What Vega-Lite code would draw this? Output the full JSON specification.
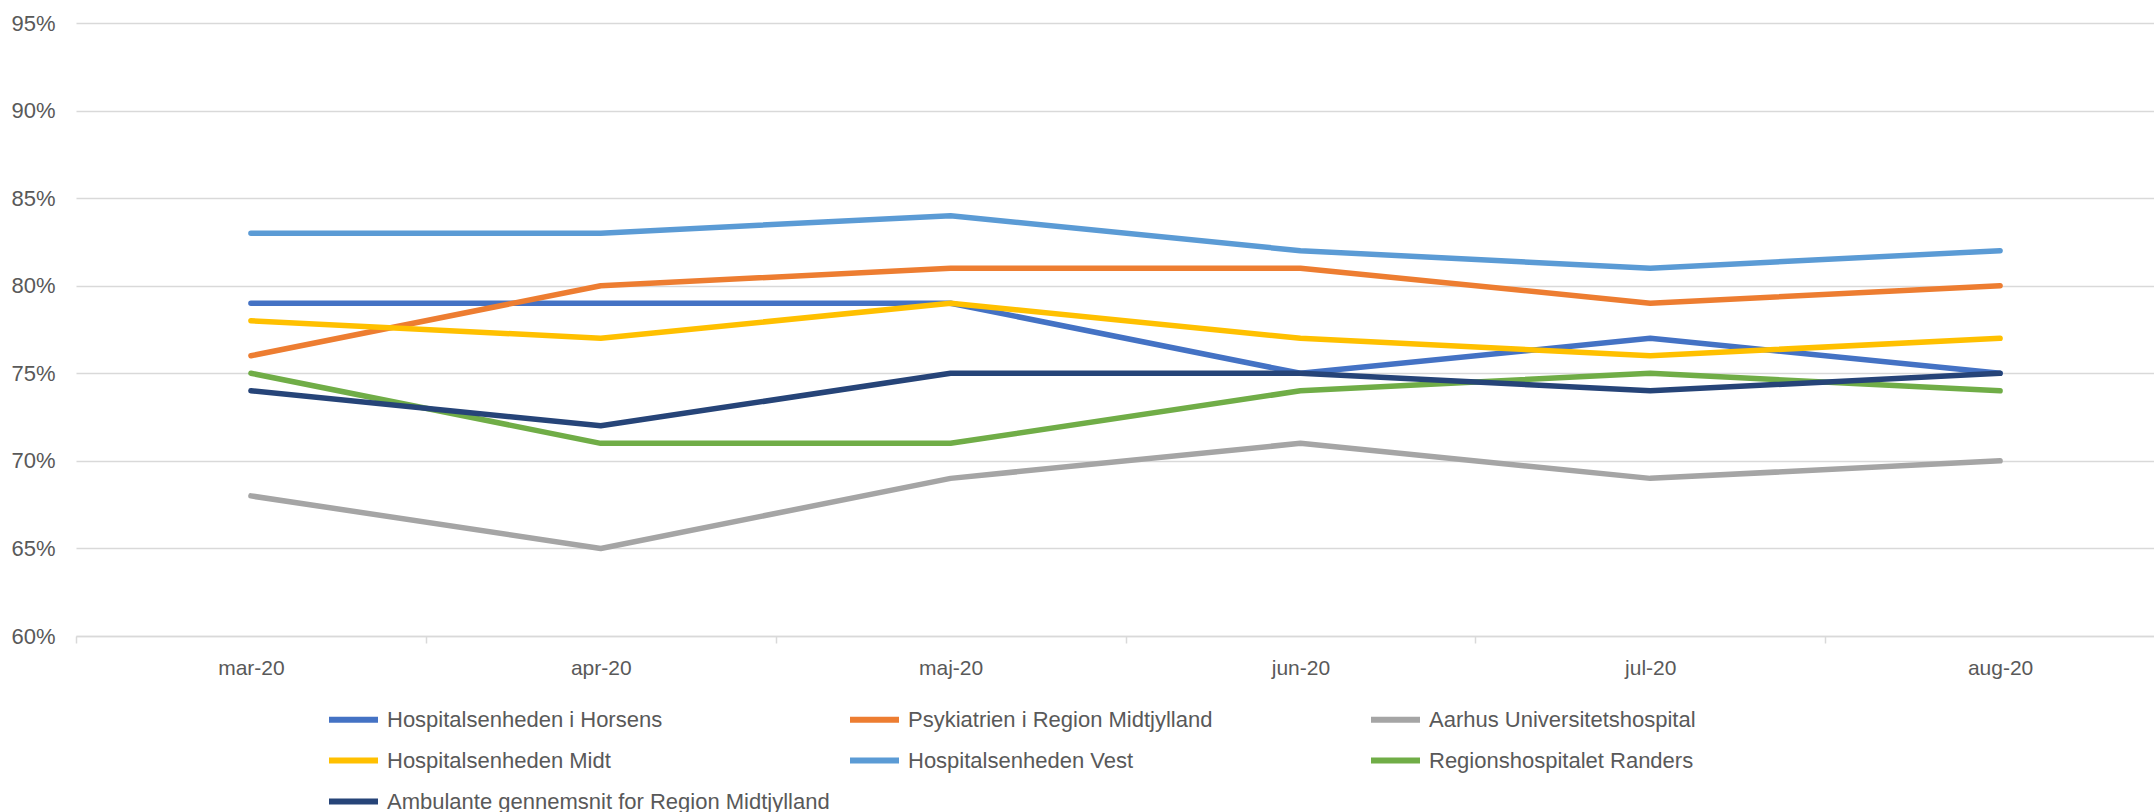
{
  "$schema": "https://vega.github.io/schema/vega-lite/v6.json",
  "autosize": {"type": "none"},
  "padding": {"left": 76, "top": 23, "right": 0, "bottom": 176},
  "width": 2078,
  "height": 613,
  "background": "white",
  "config": {
    "view": {"stroke": null},
    "font": "Liberation Sans",
    "axis": {"labelFont": "Liberation Sans", "labelColor": "#595959"},
    "legend": {"labelFont": "Liberation Sans", "labelColor": "#595959"}
  },
  "data": {
    "values": [
      {"month": "mar-20", "series": "Hospitalsenheden i Horsens", "value": 0.79},
      {"month": "apr-20", "series": "Hospitalsenheden i Horsens", "value": 0.79},
      {"month": "maj-20", "series": "Hospitalsenheden i Horsens", "value": 0.79},
      {"month": "jun-20", "series": "Hospitalsenheden i Horsens", "value": 0.75},
      {"month": "jul-20", "series": "Hospitalsenheden i Horsens", "value": 0.77},
      {"month": "aug-20", "series": "Hospitalsenheden i Horsens", "value": 0.75},
      {"month": "mar-20", "series": "Psykiatrien i Region Midtjylland", "value": 0.76},
      {"month": "apr-20", "series": "Psykiatrien i Region Midtjylland", "value": 0.80},
      {"month": "maj-20", "series": "Psykiatrien i Region Midtjylland", "value": 0.81},
      {"month": "jun-20", "series": "Psykiatrien i Region Midtjylland", "value": 0.81},
      {"month": "jul-20", "series": "Psykiatrien i Region Midtjylland", "value": 0.79},
      {"month": "aug-20", "series": "Psykiatrien i Region Midtjylland", "value": 0.80},
      {"month": "mar-20", "series": "Aarhus Universitetshospital", "value": 0.68},
      {"month": "apr-20", "series": "Aarhus Universitetshospital", "value": 0.65},
      {"month": "maj-20", "series": "Aarhus Universitetshospital", "value": 0.69},
      {"month": "jun-20", "series": "Aarhus Universitetshospital", "value": 0.71},
      {"month": "jul-20", "series": "Aarhus Universitetshospital", "value": 0.69},
      {"month": "aug-20", "series": "Aarhus Universitetshospital", "value": 0.70},
      {"month": "mar-20", "series": "Hospitalsenheden Midt", "value": 0.78},
      {"month": "apr-20", "series": "Hospitalsenheden Midt", "value": 0.77},
      {"month": "maj-20", "series": "Hospitalsenheden Midt", "value": 0.79},
      {"month": "jun-20", "series": "Hospitalsenheden Midt", "value": 0.77},
      {"month": "jul-20", "series": "Hospitalsenheden Midt", "value": 0.76},
      {"month": "aug-20", "series": "Hospitalsenheden Midt", "value": 0.77},
      {"month": "mar-20", "series": "Hospitalsenheden Vest", "value": 0.83},
      {"month": "apr-20", "series": "Hospitalsenheden Vest", "value": 0.83},
      {"month": "maj-20", "series": "Hospitalsenheden Vest", "value": 0.84},
      {"month": "jun-20", "series": "Hospitalsenheden Vest", "value": 0.82},
      {"month": "jul-20", "series": "Hospitalsenheden Vest", "value": 0.81},
      {"month": "aug-20", "series": "Hospitalsenheden Vest", "value": 0.82},
      {"month": "mar-20", "series": "Regionshospitalet Randers", "value": 0.75},
      {"month": "apr-20", "series": "Regionshospitalet Randers", "value": 0.71},
      {"month": "maj-20", "series": "Regionshospitalet Randers", "value": 0.71},
      {"month": "jun-20", "series": "Regionshospitalet Randers", "value": 0.74},
      {"month": "jul-20", "series": "Regionshospitalet Randers", "value": 0.75},
      {"month": "aug-20", "series": "Regionshospitalet Randers", "value": 0.74},
      {"month": "mar-20", "series": "Ambulante gennemsnit for Region Midtjylland", "value": 0.74},
      {"month": "apr-20", "series": "Ambulante gennemsnit for Region Midtjylland", "value": 0.72},
      {"month": "maj-20", "series": "Ambulante gennemsnit for Region Midtjylland", "value": 0.75},
      {"month": "jun-20", "series": "Ambulante gennemsnit for Region Midtjylland", "value": 0.75},
      {"month": "jul-20", "series": "Ambulante gennemsnit for Region Midtjylland", "value": 0.74},
      {"month": "aug-20", "series": "Ambulante gennemsnit for Region Midtjylland", "value": 0.75}
    ]
  },
  "mark": {"type": "line", "strokeWidth": 5.5, "strokeCap": "round", "strokeJoin": "round"},
  "encoding": {
    "x": {
      "field": "month",
      "type": "ordinal",
      "sort": null,
      "bandPosition": 0.5,
      "scale": {"type": "band", "range": [0, 2099], "paddingInner": 0, "paddingOuter": 0},
      "axis": {
        "title": null,
        "tickBand": "extent",
        "labelAngle": 0,
        "labelFontSize": 21,
        "labelPadding": 14,
        "tickSize": 7,
        "tickColor": "#d9d9d9",
        "tickWidth": 1.5,
        "domainColor": "#d9d9d9",
        "domainWidth": 1.5,
        "grid": false
      }
    },
    "y": {
      "field": "value",
      "type": "quantitative",
      "scale": {"domain": [0.6, 0.95], "nice": false, "zero": false},
      "axis": {
        "title": null,
        "values": [0.6, 0.65, 0.7, 0.75, 0.8, 0.85, 0.9, 0.95],
        "format": ".0%",
        "labelFontSize": 22,
        "labelPadding": 21,
        "ticks": false,
        "domain": false,
        "grid": true,
        "gridColor": "#d9d9d9",
        "gridWidth": 1.5
      }
    },
    "color": {
      "field": "series",
      "type": "nominal",
      "sort": null,
      "scale": {
        "domain": [
          "Hospitalsenheden i Horsens",
          "Psykiatrien i Region Midtjylland",
          "Aarhus Universitetshospital",
          "Hospitalsenheden Midt",
          "Hospitalsenheden Vest",
          "Regionshospitalet Randers",
          "Ambulante gennemsnit for Region Midtjylland"
        ],
        "range": ["#4472C4", "#ED7D31", "#A5A5A5", "#FFC000", "#5B9BD5", "#70AD47", "#264478"]
      },
      "legend": {
        "title": null,
        "orient": "none",
        "legendX": 250,
        "legendY": 669,
        "direction": "horizontal",
        "columns": 3,
        "gridAlign": "all",
        "columnPadding": 8,
        "rowPadding": 1,
        "symbolType": "stroke",
        "symbolSize": 2401,
        "symbolStrokeWidth": 6,
        "labelFontSize": 22,
        "labelOffset": 6,
        "labelLimit": 600
      }
    }
  }
}
